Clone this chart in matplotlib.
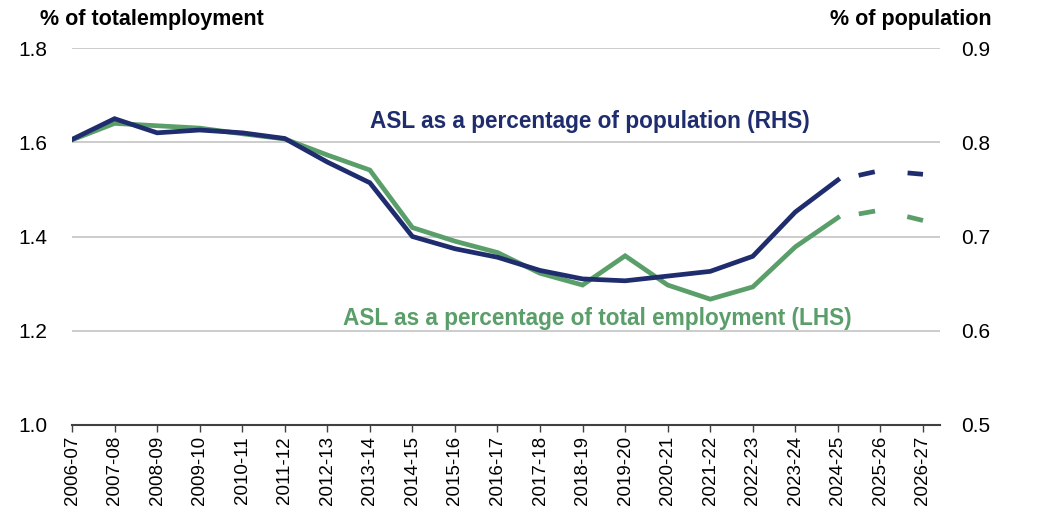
import matplotlib
matplotlib.use("Agg")
import matplotlib.pyplot as plt

plt.rcParams["font.family"] = ["Liberation Sans", "DejaVu Sans"]

years = ["2006-07", "2007-08", "2008-09", "2009-10", "2010-11", "2011-12",
         "2012-13", "2013-14", "2014-15", "2015-16", "2016-17", "2017-18",
         "2018-19", "2019-20", "2020-21", "2021-22", "2022-23", "2023-24",
         "2024-25", "2025-26", "2026-27"]

# ASL as % of total employment (LHS)
employment = [1.605, 1.640, 1.635, 1.630, 1.618, 1.607, 1.573, 1.541, 1.419,
              1.390, 1.366, 1.322, 1.297, 1.359, 1.297, 1.267, 1.293, 1.378,
              1.440, 1.456, 1.434]
# ASL as % of population (RHS)
population = [0.803, 0.825, 0.810, 0.813, 0.810, 0.804, 0.779, 0.757, 0.700,
              0.687, 0.678, 0.664, 0.655, 0.653, 0.658, 0.663, 0.679, 0.726,
              0.760, 0.770, 0.766]

n_actual = 19  # up to 2024-25 solid, projections dashed

BLUE = "#1f2d6e"
GREEN = "#5a9e69"

fig = plt.figure(figsize=(10.37, 5.30), dpi=100)
ax = fig.add_axes([72 / 1037, 1 - 425 / 530, (940 - 72) / 1037, (425 - 48) / 530])
ax2 = ax.twinx()

x = list(range(len(years)))

ax.plot(x[:n_actual], employment[:n_actual], color=GREEN, lw=3.4,
        solid_joinstyle="miter", zorder=3)
ax.plot(x[n_actual - 1:], employment[n_actual - 1:], color=GREEN, lw=3.4,
        dashes=(0, 4.5, 3.5, 2.5), zorder=3)
ax2.plot(x[:n_actual], population[:n_actual], color=BLUE, lw=3.4,
         solid_joinstyle="miter", zorder=4)
ax2.plot(x[n_actual - 1:], population[n_actual - 1:], color=BLUE, lw=3.4,
         dashes=(0, 4.5, 3.5, 2.5), zorder=4)

ax.set_ylim(1.0, 1.8)
ax2.set_ylim(0.5, 0.9)
ax.set_xlim(0, 20.4)
ax.set_yticks([1.0, 1.2, 1.4, 1.6, 1.8])
ax2.set_yticks([0.5, 0.6, 0.7, 0.8, 0.9])
ax.set_yticklabels(["1.0", "1.2", "1.4", "1.6", "1.8"])
ax2.set_yticklabels(["0.5", "0.6", "0.7", "0.8", "0.9"])

for y in [1.2, 1.4, 1.6, 1.8]:
    ax.axhline(y, color="#c8c8c8", lw=1.3, zorder=1)

ax.set_xticks(x)
ax.set_xticklabels(years, rotation=90, fontsize=13.5)
ax.tick_params(axis="x", length=5, width=1, color="#404040", pad=3)
ax.tick_params(axis="y", length=0, labelsize=15, pad=18)
ax2.tick_params(axis="y", length=0, labelsize=15, pad=15)

for a in (ax, ax2):
    for side in ("top", "left", "right", "bottom"):
        a.spines[side].set_visible(False)
ax.axhline(1.0, color="#404040", lw=1.5, zorder=2, clip_on=False)

fig.text(40 / 1037, 1 - 19 / 530, "% of totalemployment", fontsize=15.5,
         fontweight="bold", va="center", ha="left")
fig.text(992 / 1037, 1 - 19 / 530, "% of population", fontsize=15.5,
         fontweight="bold", va="center", ha="right")

ax.text(12.16, 1.643, "ASL as a percentage of population (RHS)", color=BLUE,
        fontsize=16.3, fontweight="bold", ha="center", va="center")
ax.text(12.34, 1.226, "ASL as a percentage of total employment (LHS)", color=GREEN,
        fontsize=16.3, fontweight="bold", ha="center", va="center")

fig.savefig("out.png", dpi=100)
